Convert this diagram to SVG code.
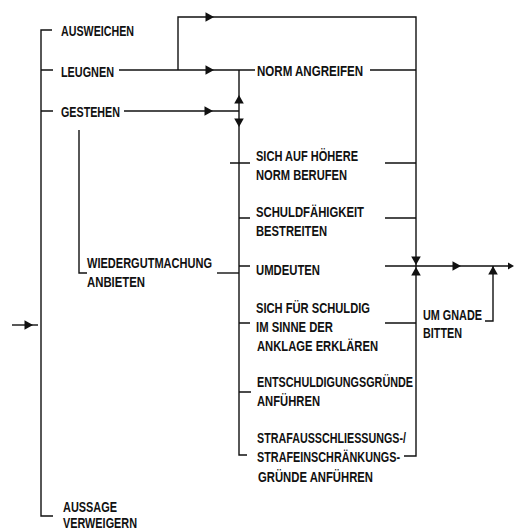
<svg xmlns="http://www.w3.org/2000/svg" xmlns:xlink="http://www.w3.org/1999/xlink" width="514" height="530" viewBox="0 0 514 530">
<style>
  text { font-family: "Liberation Sans", Arial, sans-serif; font-weight: bold; font-size: 15px; fill: #111; }
  .ln { fill: none; stroke: #111; stroke-width: 1.4; }
  .ah { fill: #111; }
</style>
<defs>
  <path id="tri" d="M0,0 L-8.5,-4.8 L-8.5,4.8 Z"/>
  <path id="tris" d="M0,0 L-6,-3.5 L-6,3.5 Z"/>
</defs>
<rect width="514" height="530" fill="#fff"/>
<g id="connectors">
  <path class="ln" d="M52,30 H41 V516 H53"/>
  <path class="ln" d="M41,70 H53 M41,111 H53"/>
  <path class="ln" d="M12,325 H38"/>
  <path class="ln" d="M79,130 V273 H87"/>
  <path class="ln" d="M119,70 H255"/>
  <path class="ln" d="M178,70 V17 H416 V456 H404"/>
  <path class="ln" d="M124,111 H239"/>
  <path class="ln" d="M239,70 V455 H247"/>
  <path class="ln" d="M230,163 H250 M239,218 H250 M239,266 H250 M239,323 H250 M239,392 H251"/>
  <path class="ln" d="M217,273 H239"/>
  <path class="ln" d="M370,70 H416 M385,163 H416 M385,218 H416 M385,266 H510 M385,323 H416"/>
  <path class="ln" d="M493,266 V321 H485"/>
  <use href="#tri" class="ah" transform="translate(214,17)"/>
  <use href="#tri" class="ah" transform="translate(214,70)"/>
  <use href="#tri" class="ah" transform="translate(213,111)"/>
  <use href="#tri" class="ah" transform="translate(239,95) rotate(-90)"/>
  <use href="#tri" class="ah" transform="translate(239,127) rotate(90)"/>
  <use href="#tri" class="ah" transform="translate(416,265) rotate(90)"/>
  <use href="#tri" class="ah" transform="translate(416,267) rotate(-90)"/>
  <use href="#tri" class="ah" transform="translate(461,266)"/>
  <use href="#tri" class="ah" transform="translate(493,266) rotate(-90)"/>
  <use href="#tris" class="ah" transform="translate(514,266)"/>
  <use href="#tri" class="ah" transform="translate(33,325)"/>
</g>
<g id="ausweichen"><text x="61" y="35.5" textLength="73" lengthAdjust="spacingAndGlyphs">AUSWEICHEN</text></g>
<g id="leugnen"><text x="61" y="77" textLength="53" lengthAdjust="spacingAndGlyphs">LEUGNEN</text></g>
<g id="gestehen"><text x="61" y="117" textLength="59" lengthAdjust="spacingAndGlyphs">GESTEHEN</text></g>
<g id="norm-angreifen"><text x="257" y="76" textLength="106" lengthAdjust="spacingAndGlyphs">NORM  ANGREIFEN</text></g>
<g id="hoehere-norm">
  <text x="256" y="161" textLength="102" lengthAdjust="spacingAndGlyphs">SICH AUF HÖHERE</text>
  <text x="256" y="180" textLength="91" lengthAdjust="spacingAndGlyphs">NORM BERUFEN</text>
</g>
<g id="schuldfaehigkeit">
  <text x="256" y="217" textLength="108" lengthAdjust="spacingAndGlyphs">SCHULDFÄHIGKEIT</text>
  <text x="256" y="236" textLength="71" lengthAdjust="spacingAndGlyphs">BESTREITEN</text>
</g>
<g id="umdeuten"><text x="256" y="275" textLength="64" lengthAdjust="spacingAndGlyphs">UMDEUTEN</text></g>
<g id="schuldig">
  <text x="256" y="313" textLength="114" lengthAdjust="spacingAndGlyphs">SICH FÜR SCHULDIG</text>
  <text x="256" y="332" textLength="77" lengthAdjust="spacingAndGlyphs">IM SINNE DER</text>
  <text x="257" y="351" textLength="121" lengthAdjust="spacingAndGlyphs">ANKLAGE ERKLÄREN</text>
</g>
<g id="entschuldigung">
  <text x="257" y="387" textLength="156" lengthAdjust="spacingAndGlyphs">ENTSCHULDIGUNGSGRÜNDE</text>
  <text x="257" y="406" textLength="63" lengthAdjust="spacingAndGlyphs">ANFÜHREN</text>
</g>
<g id="strafausschliessung">
  <text x="257" y="443" textLength="149" lengthAdjust="spacingAndGlyphs">STRAFAUSSCHLIESSUNGS-/</text>
  <text x="257" y="462" textLength="143" lengthAdjust="spacingAndGlyphs">STRAFEINSCHRÄNKUNGS-</text>
  <text x="258" y="482" textLength="115" lengthAdjust="spacingAndGlyphs">GRÜNDE ANFÜHREN</text>
</g>
<g id="wiedergutmachung">
  <text x="87" y="268" textLength="125" lengthAdjust="spacingAndGlyphs">WIEDERGUTMACHUNG</text>
  <text x="87" y="287" textLength="58" lengthAdjust="spacingAndGlyphs">ANBIETEN</text>
</g>
<g id="gnade">
  <text x="423" y="320" textLength="59" lengthAdjust="spacingAndGlyphs">UM GNADE</text>
  <text x="423" y="338" textLength="39" lengthAdjust="spacingAndGlyphs">BITTEN</text>
</g>
<g id="aussage">
  <text x="63" y="512" textLength="54" lengthAdjust="spacingAndGlyphs">AUSSAGE</text>
  <text x="63" y="528" textLength="74" lengthAdjust="spacingAndGlyphs">VERWEIGERN</text>
</g>
</svg>
